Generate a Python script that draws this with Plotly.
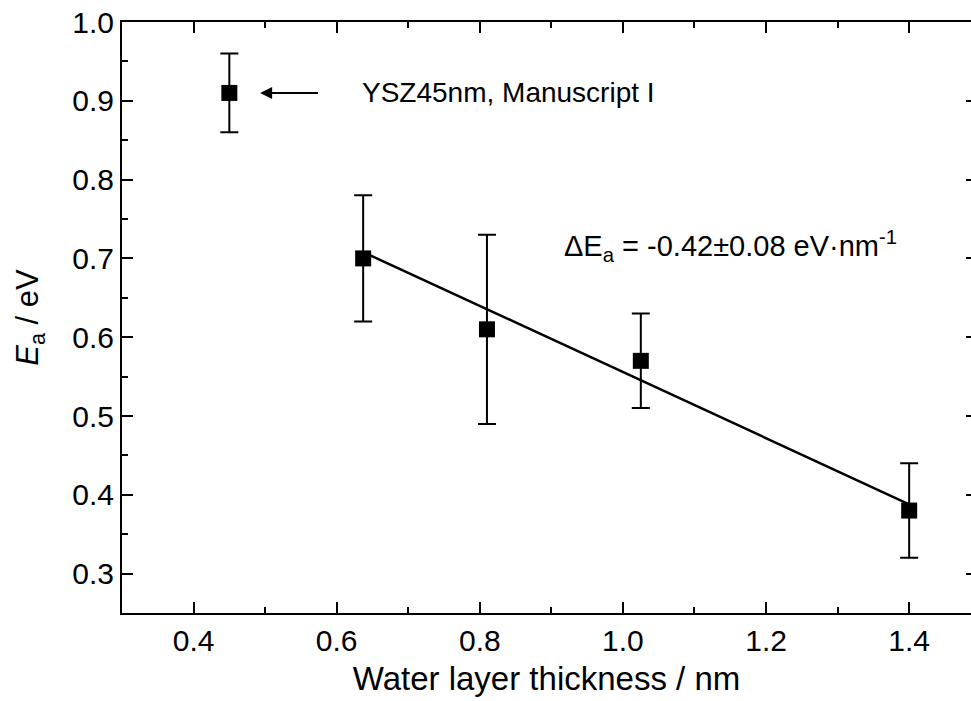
import plotly.graph_objects as go

# Data
thickness = [0.45, 0.637, 0.81, 1.025, 1.40]
ea = [0.91, 0.70, 0.61, 0.57, 0.38]
ea_err = [0.05, 0.08, 0.12, 0.06, 0.06]

fit_x = [0.637, 1.40]
fit_y = [0.708, 0.388]

x_ticks = [0.4, 0.6, 0.8, 1.0, 1.2, 1.4]
y_ticks = [0.3, 0.4, 0.5, 0.6, 0.7, 0.8, 0.9, 1.0]

x_range = [0.3, 1.4864]
y_range = [0.25, 1.0]

FONT = "Liberation Sans, Arial, sans-serif"

fig = go.Figure()

fig.add_trace(go.Scatter(
    x=fit_x, y=fit_y, mode="lines",
    line=dict(color="black", width=2.5),
    showlegend=False, hoverinfo="skip",
))

fig.add_trace(go.Scatter(
    x=thickness, y=ea, mode="markers",
    marker=dict(symbol="square", size=16, color="black"),
    error_y=dict(type="data", array=ea_err, visible=True,
                 color="black", thickness=2, width=9),
    showlegend=False,
))

# invisible trace to carry the right-hand tick axis
fig.add_trace(go.Scatter(x=[None], y=[None], yaxis="y2", showlegend=False,
                         hoverinfo="skip"))

fig.add_annotation(
    x=0.493, y=0.91, ax=0.576, ay=0.91, axref="x", ayref="y",
    xref="x", yref="y", text="", showarrow=True,
    arrowhead=2, arrowsize=1.2, arrowwidth=2, arrowcolor="black",
)
fig.add_annotation(
    x=0.633, y=0.91, xref="x", yref="y", text="YSZ45nm, Manuscript I",
    showarrow=False, xanchor="left", yanchor="middle",
    font=dict(family=FONT, size=28, color="black"),
)
fig.add_annotation(
    x=0.915, y=0.716, xref="x", yref="y",
    text="ΔE<sub>a</sub> = -0.42±0.08 eV·nm<sup>-1</sup>",
    showarrow=False, xanchor="left", yanchor="middle",
    font=dict(family=FONT, size=29, color="black"),
)

fig.update_layout(
    width=971, height=701,
    margin=dict(l=122, r=0, t=22, b=88),
    paper_bgcolor="white", plot_bgcolor="white",
    font=dict(family=FONT, color="black"),
    xaxis=dict(
        range=x_range, tickvals=x_ticks,
        ticktext=[f"{v:.1f}" for v in x_ticks],
        ticks="inside", ticklen=11, tickwidth=2, tickcolor="black",
        minor=dict(ticks="inside", ticklen=6, tickwidth=2, dtick=0.1,
                   tick0=0.3, tickcolor="black"),
        showline=True, linewidth=2, linecolor="black", mirror="ticks",
        showgrid=False, zeroline=False,
        tickfont=dict(family=FONT, size=30, color="black"),
        title=dict(text="Water layer thickness / nm",
                   font=dict(family=FONT, size=33, color="black"),
                   standoff=11),
    ),
    yaxis=dict(
        range=y_range, tickvals=y_ticks,
        ticktext=[f"{v:.1f}" for v in y_ticks],
        ticks="inside", ticklen=11, tickwidth=2, tickcolor="black",
        minor=dict(ticks="inside", ticklen=6, tickwidth=2, dtick=0.05,
                   tick0=0.25, tickcolor="black"),
        showline=True, linewidth=2, linecolor="black",
        showgrid=False, zeroline=False,
        tickfont=dict(family=FONT, size=30, color="black"),
        title=dict(text="<i>E</i><sub>a</sub> / eV",
                   font=dict(family=FONT, size=31, color="black"),
                   standoff=24),
    ),
    yaxis2=dict(
        overlaying="y", side="right", range=y_range, tickvals=y_ticks,
        ticks="inside", ticklen=5, tickwidth=2, tickcolor="black",
        showticklabels=False, showline=False, showgrid=False, zeroline=False,
    ),
)

fig.write_html("out.html")
